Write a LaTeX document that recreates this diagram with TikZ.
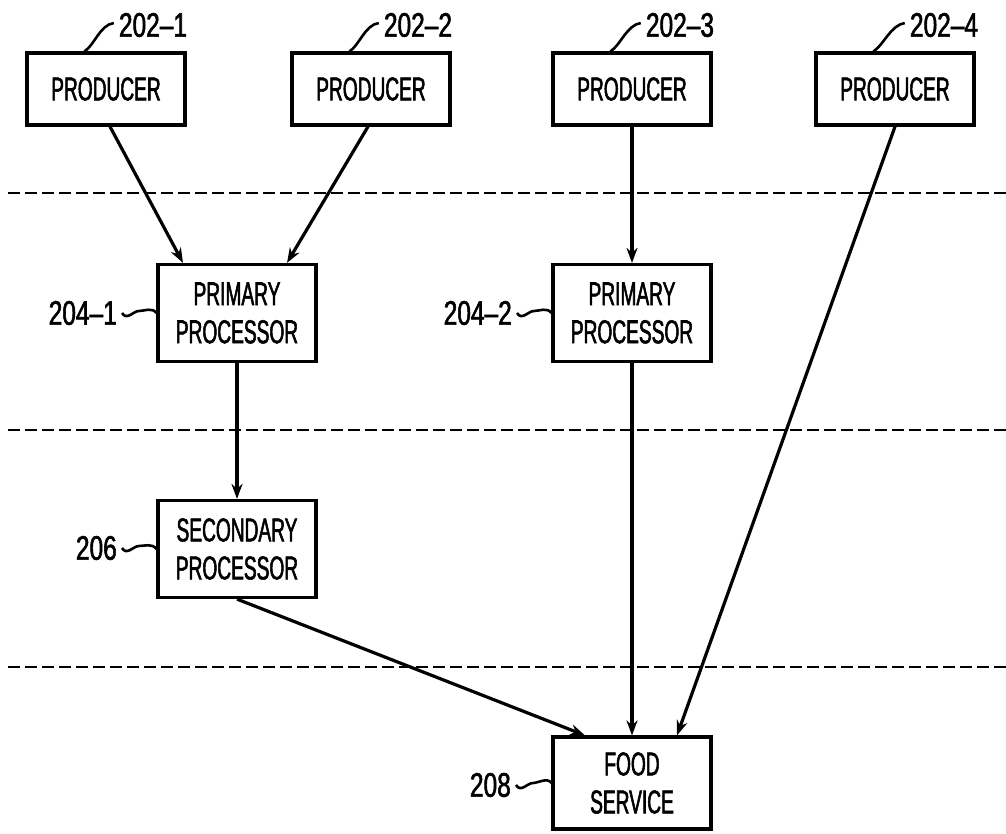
\documentclass[tikz,border=0pt]{standalone}
\usepackage{fontspec}
\setmainfont[Ligatures=TeX,FakeStretch=0.58,FakeBold=1.6]{Liberation Sans}
\newfontfamily\refnumfont[Ligatures=TeX,FakeStretch=0.72,FakeBold=1.6]{Liberation Sans}
\usetikzlibrary{arrows.meta,calc}

\begin{document}
\begin{tikzpicture}[x=1pt,y=-1pt,
  block/.style={draw,line width=3.2pt,minimum width=158pt,inner sep=0pt,align=center,font=\fontsize{33}{38}\selectfont},
  short/.style={block,minimum height=72pt},
  tall/.style={block,minimum height=97pt},
  refnum/.style={inner sep=0pt,font=\refnumfont\fontsize{34}{38}\selectfont},
  lead/.style={line width=2.6pt},
  edge/.style={line width=3.2pt,->,>={Stealth[length=15pt,width=11pt]}},
  tier/.style={line width=2.4pt,dash pattern=on 12pt off 5pt}]
\useasboundingbox (0,0) rectangle (1006,833);
% tiers
\foreach \y in {193,430,667} \draw [tier] (8,\y) -- (1006,\y);
% blocks
\node (prod1) [short] at (106,89) {PRODUCER};
\node (prod2) [short] at (371,89) {PRODUCER};
\node (prod3) [short] at (632,89) {PRODUCER};
\node (prod4) [short] at (895,89) {PRODUCER};
\node (prim1) [tall] at (237,313) {PRIMARY\\PROCESSOR};
\node (prim2) [tall] at (632,313) {PRIMARY\\PROCESSOR};
\node (sec) [tall] at (237,549) {SECONDARY\\PROCESSOR};
\node (food) [tall,minimum height=92pt] at (632,783) {FOOD\\SERVICE};
% reference numerals
\node (rprod1) [refnum] at (153,25) {202--1};
\node (rprod2) [refnum] at (418,25) {202--2};
\node (rprod3) [refnum] at (680,25) {202--3};
\node (rprod4) [refnum] at (944,25) {202--4};
\node (rprim1) [refnum,anchor=east] at (117,313) {204--1};
\node (rprim2) [refnum,anchor=east] at (512,313) {204--2};
\node (rsec) [refnum,anchor=east] at (117,548) {206};
\node (rfood) [refnum,anchor=east] at (511,785) {208};
% leaders
\foreach \p in {1,2,3,4}
  \draw [lead] ($(prod\p.north west)+(59,0)$) .. controls +(10,-6) and +(-14,2) .. ($(rprod\p.west)+(-5,-2)$);
\foreach \r/\b in {rprim1/prim1,rprim2/prim2,rsec/sec,rfood/food}
  \draw [lead] ($(\r.east)+(5,0)$) .. controls +(5,8) and +(-6,0) .. ($(\r.east)+(22,-2)$) .. controls +(5,0) and +(-4,-6) .. (\b.west);
% flows
\draw [edge] ($(prod1.south)+(4,0)$) to ($(prim1.north)+(-54,0)$);
\draw [edge] ($(prod2.south)+(-3,0)$) to ($(prim1.north)+(50,0)$);
\draw [edge] (prod3) to (prim2);
\draw [edge] (prim1) to (sec);
\draw [edge] (prim2) to (food);
\draw [edge] (prod4.south) to ($(food.north)+(45,0)$);
\draw [edge] (sec.south) to ($(food.north)+(-47,0)$);
\end{tikzpicture}
\end{document}
